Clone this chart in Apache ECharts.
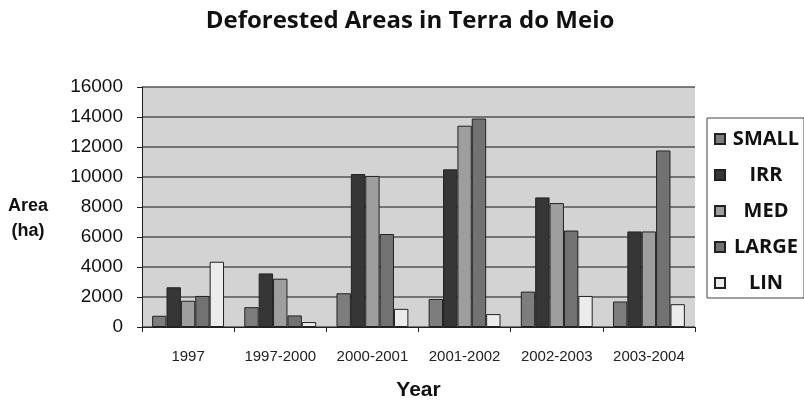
<!DOCTYPE html>
<html><head><meta charset="utf-8">
<script src="https://cdn.jsdelivr.net/npm/echarts@6/dist/echarts.min.js"></script>
<style>html,body{margin:0;padding:0;background:#fff}#c{width:804px;height:406px}</style>
</head><body><div id="c"></div>
<script>
const categories = ['1997','1997-2000','2000-2001','2001-2002','2002-2003','2003-2004'];
const seriesNames = ['SMALL','IRR','MED','LARGE','LIN'];
const small = [750, 1320, 2250, 1870, 2360, 1700];
const irr   = [2650, 3570, 10200, 10510, 8640, 6370];
const med   = [1750, 3220, 10070, 13420, 8260, 6370];
const large = [2070, 770, 6200, 13900, 6430, 11770];
const lin   = [4350, 330, 1210, 860, 2070, 1520];
const yTicks = {min: 0, max: 16000, interval: 2000};

const colors = ['#7d7d7d','#363636','#9e9e9e','#727272','#ececec'];
const values = [small, irr, med, large, lin];

const chart = echarts.init(document.getElementById('c'));
chart.setOption({
  animation: false,
  backgroundColor: '#fff',
  title: {
    text: 'Deforested Areas in Terra do Meio',
    left: 405, top: 4, textAlign: 'center',
    textStyle: {fontFamily: 'Open Sans', fontWeight: 'bold', fontSize: 24, color: '#111'}
  },
  grid: {left: 142, right: 109, top: 87, bottom: 77, show: true, backgroundColor: '#d3d3d3', borderWidth: 0},
  legend: {
    orient: 'vertical', left: 707, top: 118,
    backgroundColor: '#fff', borderColor: '#444', borderWidth: 1,
    padding: [11, 2, 5, 7],
    itemWidth: 10, itemHeight: 10, itemGap: 16,
    icon: 'rect',
    formatter: n => '{a|' + n + '}',
    textStyle: {
      fontFamily: 'Open Sans', fontWeight: 'bold', fontSize: 20, color: '#111', lineHeight: 20,
      rich: {a: {fontFamily: 'Open Sans', fontWeight: 'bold', fontSize: 20, color: '#111', lineHeight: 20, width: 72, align: 'center'}}
    },
    data: seriesNames
  },
  xAxis: {
    type: 'category', data: categories,
    axisLine: {show: true, lineStyle: {color: '#222', width: 1}},
    axisTick: {show: true, length: 5, lineStyle: {color: '#222'}},
    axisLabel: {interval: 0, fontFamily: 'Liberation Sans', fontSize: 15, color: '#222', margin: 22},
    name: 'Year', nameLocation: 'middle', nameGap: 53,
    nameTextStyle: {fontFamily: 'Liberation Sans', fontWeight: 'bold', fontSize: 21, color: '#111'}
  },
  yAxis: {
    type: 'value', min: yTicks.min, max: yTicks.max, interval: yTicks.interval,
    axisLine: {show: true, lineStyle: {color: '#222', width: 1}},
    axisTick: {show: true, length: 5, lineStyle: {color: '#222'}},
    axisLabel: {fontFamily: 'Liberation Sans', fontSize: 19, color: '#111', margin: 19, formatter: v => String(v)},
    splitLine: {show: true, lineStyle: {color: '#555', width: 1.5}}
  },
  graphic: [{
    type: 'text', left: 8, top: 194,
    style: {text: 'Area\n(ha)', fontFamily: 'Liberation Sans', fontWeight: 'bold', fontSize: 18, lineHeight: 25, fill: '#111', textAlign: 'center', align: 'center'}
  }],
  series: seriesNames.map((n, i) => ({
    name: n, type: 'bar', data: values[i],
    barGap: '0%', barCategoryGap: '22%',
    itemStyle: {color: colors[i], borderColor: '#222', borderWidth: 1}
  }))
});
</script></body></html>
